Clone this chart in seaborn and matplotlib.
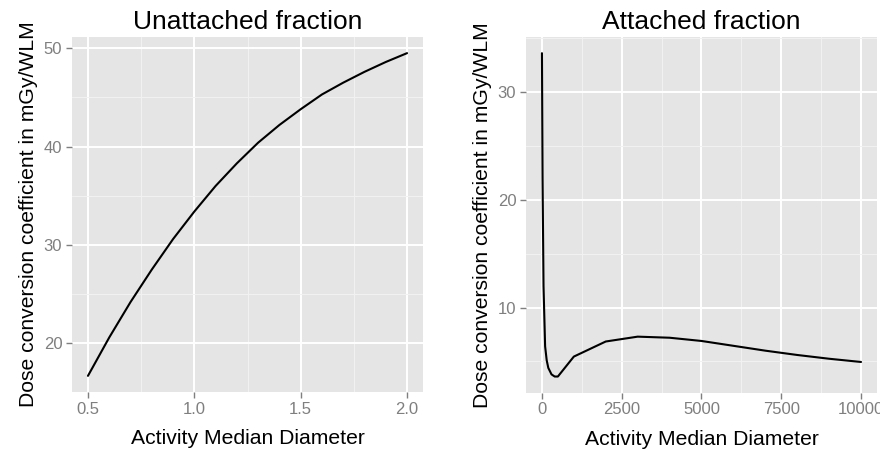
import numpy as np
import pandas as pd
import matplotlib
matplotlib.use("Agg")
import matplotlib.pyplot as plt
import seaborn as sns
from matplotlib.ticker import MultipleLocator

# Unattached fraction: AMD (nm) vs dose conversion coefficient
unatt_amd = [0.5, 0.6, 0.7, 0.8, 0.9, 1.0, 1.1, 1.2, 1.3, 1.4, 1.5, 1.6, 1.7, 1.8, 1.9, 2.0]
unatt_dcc = [16.7, 20.6, 24.2, 27.5, 30.6, 33.4, 36.0, 38.3, 40.4, 42.2, 43.8, 45.3, 46.5, 47.6, 48.6, 49.5]

# Attached fraction
att_amd = [1, 10, 20, 50, 100, 150, 200, 300, 400, 500, 1000, 2000, 3000, 4000,
           5000, 6000, 7000, 8000, 9000, 10000]
att_dcc = [33.6, 28.0, 22.0, 12.0, 6.4, 5.1, 4.4, 3.8, 3.6, 3.6, 5.45, 6.85, 7.3, 7.2,
           6.9, 6.45, 6.0, 5.6, 5.25, 4.95]

sns.set_theme(style="darkgrid", rc={
    "axes.facecolor": "#E5E5E5",
    "grid.color": "white",
    "xtick.bottom": True,
    "ytick.left": True,
    "xtick.color": "#7F7F7F",
    "ytick.color": "#7F7F7F",
    "xtick.major.size": 4,
    "ytick.major.size": 4,
    "xtick.major.width": 1,
    "ytick.major.width": 1,
})
plt.rcParams["font.family"] = ["Liberation Sans", "DejaVu Sans"]

fig = plt.figure(figsize=(8.8, 4.5), dpi=100)
ax1 = fig.add_axes([72 / 880, 58 / 450, 351 / 880, 355 / 450])
ax2 = fig.add_axes([526 / 880, 57.3 / 450, 351 / 880, 355.7 / 450])

panels = [
    (ax1, unatt_amd, unatt_dcc, "Unattached fraction", 0.5, 10, [0.5, 1.0, 1.5, 2.0], "{:.1f}"),
    (ax2, att_amd, att_dcc, "Attached fraction", 2500, 10, [0, 2500, 5000, 7500, 10000], "{:.0f}"),
]

for ax, xs, ys, title, xstep, ystep, xt, fmt in panels:
    df = pd.DataFrame({"amd": xs, "dcc": ys})
    sns.lineplot(data=df, x="amd", y="dcc", color="black", linewidth=1.5, ax=ax)
    xr = max(xs) - min(xs)
    yr = max(ys) - min(ys)
    ax.set_xlim(min(xs) - 0.05 * xr, max(xs) + 0.05 * xr)
    ax.set_ylim(min(ys) - 0.05 * yr, max(ys) + 0.05 * yr)
    ax.set_xticks(xt)
    ax.set_xticklabels([fmt.format(v) for v in xt])
    ax.yaxis.set_major_locator(MultipleLocator(ystep))
    ax.xaxis.set_minor_locator(MultipleLocator(xstep / 2))
    ax.yaxis.set_minor_locator(MultipleLocator(ystep / 2))
    ax.grid(which="major", color="white", linewidth=1.4)
    ax.grid(which="minor", color="#F2F2F2", linewidth=0.7)
    ax.tick_params(which="minor", length=0)
    ax.tick_params(which="major", labelsize=12, pad=3, colors="#7F7F7F")
    ax.set_title(title, fontsize=19, pad=6, color="black")
    ax.set_xlabel("Activity Median Diameter", fontsize=15.2, labelpad=9, color="black")
    ax.set_ylabel("Dose conversion coefficient in mGy/WLM", fontsize=15.2, labelpad=4, color="black")
    for s in ax.spines.values():
        s.set_visible(False)

fig.savefig("out.png", dpi=100)
